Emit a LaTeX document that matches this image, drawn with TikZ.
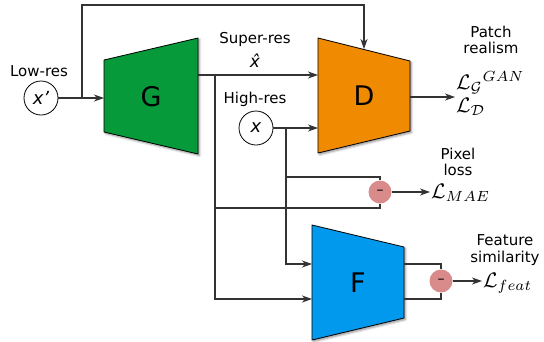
\documentclass[tikz,border=0pt]{standalone}
\usepackage{graphicx}
\usepackage{fontspec}
\setmainfont{DejaVu Sans}
\usetikzlibrary{arrows.meta,shadows,shadows.blur,positioning}
\definecolor{wirec}{HTML}{333333}
\definecolor{gen}{HTML}{079A3B}
\definecolor{disc}{HTML}{F08A00}
\definecolor{featc}{HTML}{0099EE}
\definecolor{diffc}{HTML}{D98A8A}
\newcommand{\lossbig}[1]{\scalebox{2.1}{#1}}
\tikzset{
  wire/.style={draw=wirec, line width=1.1pt},
  flow/.style={wire, -{Stealth[length=10pt,width=7pt,inset=3pt]}},
  net/.style={draw=black, line width=0.8pt, line join=round,
    blur shadow={shadow xshift=1.5pt, shadow yshift=-1.5pt, shadow blur steps=4, shadow opacity=45}},
  var/.style={circle, draw=black, fill=white, line width=0.8pt, minimum size=34pt, inner sep=0pt,
    font=\fontsize{18}{18}\selectfont\itshape},
  minus/.style={circle, fill=diffc, minimum size=23pt, inner sep=0pt, font=\fontsize{14}{14}\selectfont},
  lab/.style={font=\fontsize{15}{16.5}\selectfont, align=center},
  loss/.style={anchor=west, inner sep=1pt},
  big/.style={font=\fontsize{27}{27}\selectfont},
}

\begin{document}
\begin{tikzpicture}[x=1pt, y=-1pt]
  \useasboundingbox (0,0) rectangle (544,341);

  % networks
  \path[net, fill=gen] (104,60) -- (198,38) -- (198,154) -- (104,132) -- cycle;
  \path[net, fill=disc] (318,38) -- (410,61) -- (410,131) -- (318,153) -- cycle;
  \path[net, fill=featc] (312,225) -- (404,247) -- (404,318) -- (312,340) -- cycle;
  \node[big] (G) at (151,97) {G};
  \node[big] (D) at (364,96) {D};
  \node[big] (F) at (358,283) {F};

  \coordinate (Gin) at (104,98);
  \coordinate (Gout) at (198,75);
  \coordinate (Din1) at (318,75);
  \coordinate (Din2) at (318,128);
  \coordinate (Dtop) at (364,49);
  \coordinate (Dout) at (410,97);
  \coordinate (Fin1) at (312,264);
  \coordinate (Fin2) at (312,299);
  \coordinate (Fout1) at (404,264);
  \coordinate (Fout2) at (404,299);

  % inputs and differences
  \node[var] (xlow) at (41,98) {x'};
  \node[var] (xhigh) at (256,128) {x};
  \node[minus] (mpix) at (380,192) {–};
  \node[minus] (mfeat) at (441,281) {–};

  % labels
  \node[lab] (lowres) at (39,71) {Low-res};
  \node[lab] (superres) at (255,39) {Super-res};
  \node[lab, font=\fontsize{17}{17}\selectfont\itshape] (xhat) at (255,61) {\^{x}};
  \node[lab] (highres) at (255,99) {High-res};
  \node[lab] (patch) at (491,40) {Patch\\realism};
  \node[lab] (pixel) at (458,162) {Pixel\\loss};
  \node[lab] (feature) at (505,250) {Feature\\similarity};

  \node[loss, anchor=base west] (lgan) at (455,89) {\lossbig{$\mathcal{L}_{\mathcal{G}}{}^{GAN}$}};
  \node[loss, anchor=base west] (ld) at (455,112) {\lossbig{$\mathcal{L}_{\mathcal{D}}$}};
  \node[loss, anchor=base west] (lmae) at (430,198) {\lossbig{$\mathcal{L}_{MAE}$}};
  \node[loss, anchor=base west] (lfeat) at (482,287) {\lossbig{$\mathcal{L}_{feat}$}};

  % connectors
  \coordinate (loopA) at (82,98);
  \coordinate (loopB) at (364,5);
  \coordinate (br1) at (215,75);
  \coordinate (br2) at (215,208);
  \coordinate (br3) at (286,128);
  \coordinate (br4) at (286,177);

  \draw[flow] (xlow) -- (Gin);
  \draw[flow] (loopA) |- (loopB) -- (Dtop);
  \draw[flow] (Gout) -- (Din1);
  \draw[flow] (br1) |- (Fin2);
  \draw[wire] (br2) -| (mpix);
  \draw[flow] (xhigh) -- (Din2);
  \draw[flow] (br3) |- (Fin1);
  \draw[wire] (br4) -| (mpix);
  \draw[flow] (mpix) -- (mpix -| lmae.west);
  \draw[wire] (Fout1) -| (mfeat);
  \draw[wire] (Fout2) -| (mfeat);
  \draw[flow] (mfeat) -- (mfeat -| lfeat.west);
  \draw[flow] (Dout) -- (Dout -| lgan.west);
\end{tikzpicture}
\end{document}
